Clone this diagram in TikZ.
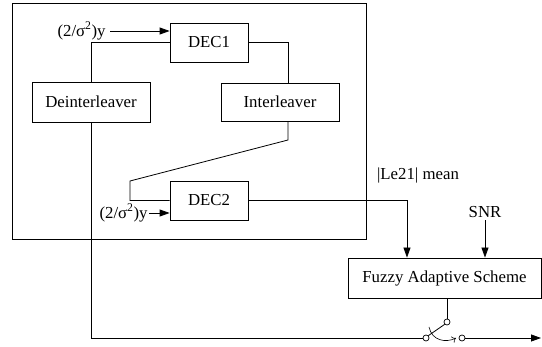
\documentclass[tikz,border=0pt]{standalone}
\usepackage{fontspec}
\setmainfont{Liberation Serif}
\usetikzlibrary{arrows.meta}
\begin{document}
\begin{tikzpicture}[x=1pt,y=-1pt,
  line width=0.8pt,
  font=\fontsize{16.8}{18}\selectfont,
  blk/.style={draw, rectangle, inner sep=0pt},
  lbl/.style={inner sep=0pt},
  arr/.style={-{Triangle[length=10pt,width=7pt]}},
  port/.style={draw, circle, inner sep=0pt, minimum size=6pt, line width=0.7pt}]
\useasboundingbox (0,0) rectangle (542,347);
\draw (12,3) rectangle (366,239);
\node[blk, minimum width=78pt, minimum height=39pt] (dec1) at (209,42.5) {DEC1};
\node[blk, minimum width=118pt, minimum height=40pt] (deint) at (91,102) {Deinterleaver};
\node[blk, minimum width=118pt, minimum height=38pt] (inter) at (280,102) {Interleaver};
\node[blk, minimum width=78pt, minimum height=39pt] (dec2) at (209,200.5) {DEC2};
\node[blk, minimum width=193pt, minimum height=40pt] (fuzzy) at (444.5,278) {Fuzzy Adaptive Scheme};
\node[lbl, anchor=east] (in1) at (106,31) {(2/σ\textsuperscript{2})y};
\node[lbl, anchor=east] (in2) at (148,213) {(2/σ\textsuperscript{2})y};
\node[lbl] (le) at (418,175) {|Le21| mean};
\node[lbl] (snr) at (485,212) {SNR};
\coordinate (ix) at (288,0);
\coordinate (c1) at (288,140);
\coordinate (c2) at (130,181);
\coordinate (c3) at (130,200.5);
\coordinate (lx) at (407,0);
\coordinate (bl) at (91,338);
\coordinate (out) at (541,338);
\node[port] (p) at (426,338) {};
\node[port] (t) at (447,322) {};
\node[port] (r) at (462,338) {};
\draw[arr] (in1.east) ++(4,0) -- (in1 -| dec1.west);
\draw[arr] (in2.east) ++(1,0) -- (in2 -| dec2.west);
\draw (deint.north) |- (dec1.west);
\draw (dec1.east) -| (ix |- inter.north);
\draw (ix |- inter.south) -- (c1) -- (c2) -- (c3) -- (dec2.west);
\draw[arr] (dec2.east) -| (lx |- fuzzy.north);
\draw[arr] (snr.south) ++(0,2) -- (snr |- fuzzy.north);
\draw (t |- fuzzy.south) -- (t.north);
\draw (deint.south) -- (bl) -- (p.west);
\draw (p.north east) -- (t.south west);
\draw[-{To[length=4pt,width=7pt]}, line width=0.6pt] (429,327) .. controls (432,341) and (446,343) .. (456,338);
\draw[arr] (r.east) -- (out);
\end{tikzpicture}
\end{document}
